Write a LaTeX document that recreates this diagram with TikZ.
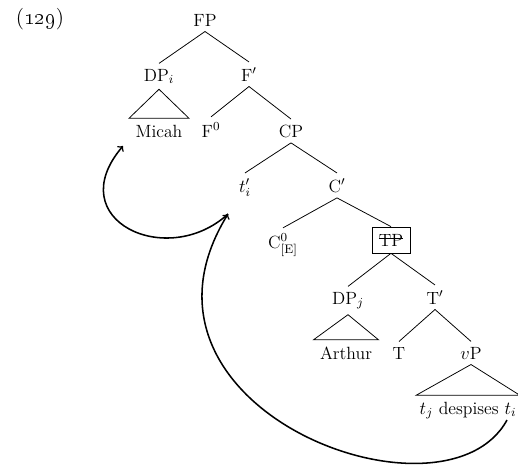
\documentclass[tikz,border=0pt]{standalone}
\usepackage{amsmath}

% strike a label through the middle of its letters
\newcommand{\struck}[1]{\setbox0\hbox{#1}\rlap{\rule[0.58\ht0]{\wd0}{0.45pt}}\box0}

\begin{document}
\begin{tikzpicture}[x=0.65pt, y=-0.65pt, font=\fontsize{11.5}{13}\selectfont, line width=0.5pt,
    every node/.style={anchor=base},
    rooftext/.style={inner xsep=4pt, inner ysep=4pt},
    movearrow/.style={->, line width=1pt}]
  \useasboundingbox (0,0) rectangle (518,469);

  \node (exno) at (40,24) {\fontsize{14}{16}\selectfont(\oldstylenums{129})};

  % nodes, row by row
  \node (FP) at (205,26) {FP};
  \node (DPi) at (159,81) {DP$_i$};
  \node (Fbar) at (249,81) {F$'$};
  \node[rooftext] (Micah) at (159,137) {Micah};
  \node (F0) at (211,137) {F$^0$};
  \node (CP) at (291,137) {CP};
  \node (tprime) at (245,192) {$t'_i$};
  \node (Cbar) at (337,192) {C$'$};
  \node (C0) at (283,248) {C$^0_{\text{[E]}}$};
  \node[draw, inner xsep=4.5pt, inner ysep=4.5pt] (TP) at (391,246) {\struck{TP}};
  \node (DPj) at (348,304) {DP$_j$};
  \node (Tbar) at (435,304) {T$'$};
  \node[rooftext] (Arthur) at (346,359) {Arthur};
  \node (T) at (399,359) {T};
  \node (vP) at (471,359) {$v$P};
  \node[rooftext, inner xsep=2pt] (vPtext) at (468,414) {$t_j$ despises $t_i$};

  % branches
  \draw (FP.south) -- (DPi.north);
  \draw (FP.south) -- (Fbar.north);
  \draw (Fbar.south) -- (F0.north);
  \draw (Fbar.south) -- (CP.north);
  \draw (CP.south) -- (tprime.north);
  \draw (CP.south) -- (Cbar.north);
  \draw (Cbar.south) -- (C0.north);
  \draw (Cbar.south) -- (TP.north);
  \draw (TP.south) -- (DPj.north);
  \draw (TP.south) -- (Tbar.north);
  \draw (Tbar.south) -- (T.north);
  \draw (Tbar.south) -- (vP.north);

  % roofs
  \draw (DPi.south) -- (Micah.north west) -- (Micah.north east) -- cycle;
  \draw (DPj.south) -- (Arthur.north west) -- (Arthur.north east) -- cycle;
  \draw (vP.south) -- (vPtext.north west) -- (vPtext.north east) -- cycle;

  % movement
  \coordinate (tfoot) at ([shift={(-17,22)}]tprime.base);
  \coordinate (mfoot) at ([shift={(-36,9)}]Micah.base);
  \coordinate (tifoot) at ([shift={(39,6)}]vPtext.base);
  \draw[movearrow] (tfoot) .. controls +(-61,56) and +(-63,74) .. (mfoot);
  \draw[movearrow] (tifoot) .. controls +(-62,114) and +(-120,195) .. (tfoot);
\end{tikzpicture}
\end{document}
